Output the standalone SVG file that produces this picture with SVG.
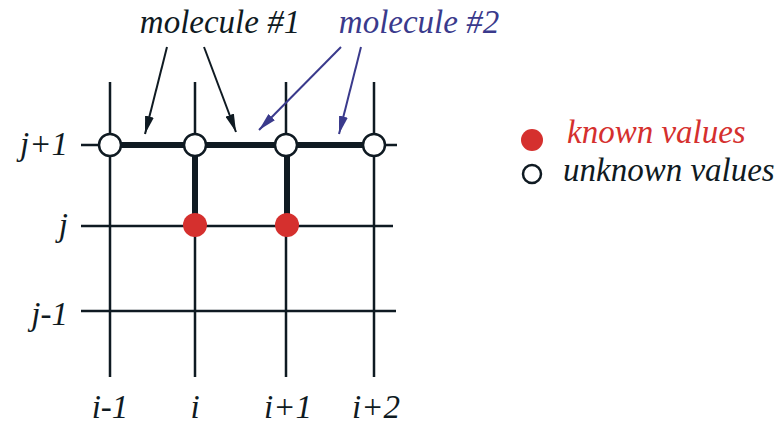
<svg xmlns="http://www.w3.org/2000/svg" width="783" height="428" viewBox="0 0 783 428">
<style>
.t{font-family:'Liberation Serif','Times New Roman',Times,serif;font-style:italic;font-size:33px;fill:#0f1a22}
.grid{stroke:#0f1a22;stroke-width:2.5;fill:none}
.thick{stroke:#0f1a22;stroke-width:6;fill:none}
.open{fill:#fff;stroke:#0f1a22;stroke-width:2.5}
.known{fill:#d5302e}
.arr1{stroke:#0f1a22;stroke-width:2;fill:none}
.arr2{stroke:#3a3a8c;stroke-width:2;fill:none}
</style>
<defs>
<marker id="h1" viewBox="0 0 20 10" refX="20" refY="5" markerWidth="18" markerHeight="9" orient="auto" markerUnits="userSpaceOnUse">
<path d="M0,0 L20,5 L0,10 Z" fill="#0f1a22"/>
</marker>
<marker id="h2" viewBox="0 0 20 10" refX="20" refY="5" markerWidth="18" markerHeight="9" orient="auto" markerUnits="userSpaceOnUse">
<path d="M0,0 L20,5 L0,10 Z" fill="#3a3a8c"/>
</marker>
</defs>
<g id="grid">
<line class="grid" x1="110" y1="82" x2="110" y2="377"/>
<line class="grid" x1="195" y1="82" x2="195" y2="377"/>
<line class="grid" x1="286" y1="82" x2="286" y2="377"/>
<line class="grid" x1="374" y1="82" x2="374" y2="377"/>
<line class="grid" x1="81" y1="145" x2="397" y2="145"/>
<line class="grid" x1="81" y1="226" x2="393" y2="226"/>
<line class="grid" x1="81" y1="311" x2="396" y2="311"/>
</g>
<g id="connectors">
<line class="thick" x1="110" y1="145" x2="374" y2="145"/>
<line class="thick" x1="195" y1="145" x2="195" y2="225"/>
<line class="thick" x1="287" y1="145" x2="287" y2="225"/>
<line class="arr1" x1="167" y1="47" x2="145" y2="134" marker-end="url(#h1)"/>
<line class="arr1" x1="204" y1="47" x2="236" y2="132" marker-end="url(#h1)"/>
<line class="arr2" x1="341" y1="47" x2="259" y2="130" marker-end="url(#h2)"/>
<line class="arr2" x1="361" y1="47" x2="339" y2="134" marker-end="url(#h2)"/>
</g>
<g id="node-open-1"><circle class="open" cx="110" cy="145" r="11"/></g>
<g id="node-open-2"><circle class="open" cx="195" cy="145" r="11"/></g>
<g id="node-open-3"><circle class="open" cx="286" cy="145" r="11"/></g>
<g id="node-open-4"><circle class="open" cx="374" cy="145" r="11"/></g>
<g id="node-known-1"><circle class="known" cx="195" cy="225" r="12"/></g>
<g id="node-known-2"><circle class="known" cx="287" cy="225" r="12"/></g>
<g id="labels">
<text class="t" x="220" y="33" text-anchor="middle">molecule #1</text>
<text class="t" x="419" y="33" text-anchor="middle" style="fill:#3a3a8c">molecule #2</text>
<text class="t" x="68" y="155" text-anchor="end">j+1</text>
<text class="t" x="68" y="236" text-anchor="end">j</text>
<text class="t" x="68" y="325" text-anchor="end">j-1</text>
<text class="t" x="110" y="418" text-anchor="middle">i-1</text>
<text class="t" x="195" y="418" text-anchor="middle">i</text>
<text class="t" x="288" y="418" text-anchor="middle">i+1</text>
<text class="t" x="376" y="418" text-anchor="middle">i+2</text>
</g>
<g id="legend-known">
<circle class="known" cx="532" cy="140" r="11"/>
<text class="t" x="567" y="143" style="fill:#d5302e">known values</text>
</g>
<g id="legend-unknown">
<circle class="open" cx="532" cy="174" r="9"/>
<text class="t" x="563" y="181">unknown values</text>
</g>
</svg>
